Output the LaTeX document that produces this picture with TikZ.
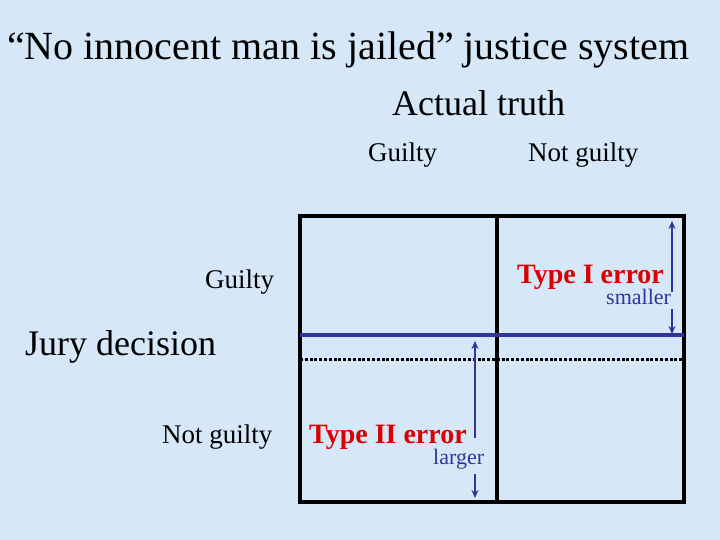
\documentclass[tikz,border=0pt]{standalone}
\usepackage{fontspec}
\setmainfont{Liberation Serif}
\usetikzlibrary{arrows.meta}
\definecolor{bgblue}{RGB}{214,231,248}
\definecolor{navy}{RGB}{51,51,153}
\definecolor{errred}{RGB}{220,0,0}
\begin{document}
\begin{tikzpicture}[x=1pt,y=-1pt,
  lbl/.style={anchor=base west,inner sep=0pt,font=\fontsize{27}{30}\selectfont},
  big/.style={anchor=base west,inner sep=0pt,font=\fontsize{36}{40}\selectfont},
  err/.style={anchor=base west,inner sep=0pt,text=errred,font=\fontsize{28}{30}\selectfont\bfseries},
  small/.style={anchor=base west,inner sep=0pt,text=navy,font=\fontsize{22}{26}\selectfont},
  grid/.style={line width=3.5pt,black},
  arr/.style={navy,line width=1.8pt,-{Stealth[length=8pt,width=7pt]}}]
\fill[bgblue] (0,0) rectangle (720,540);
\useasboundingbox (0,0) rectangle (720,540);
% texts
\node[anchor=base west,inner sep=0pt,font=\fontsize{40}{44}\selectfont] (title) at (7,60) {“No innocent man is jailed” justice system};
\node[big] (actual) at (392,116) {Actual truth};
\node[lbl] (cg) at (368,162) {Guilty};
\node[lbl] (cng) at (528,162) {Not guilty};
\node[lbl] (rg) at (205,288) {Guilty};
\node[big] (jury) at (25,355) {Jury decision};
\node[lbl] (rng) at (162,443) {Not guilty};
% grid
\coordinate (tl) at (300,216);
\coordinate (br) at (684,502);
\coordinate (vt) at (497,216);
\coordinate (vb) at (497,502);
\coordinate (bl) at (300,335);
\coordinate (brr) at (684,335);
\coordinate (dl) at (300,359);
\coordinate (dr) at (684,359);
\draw[black,line width=3pt,dash pattern=on 3pt off 1.8pt] (dl) -- (dr);
\draw[grid] (tl) rectangle (br);
\draw[grid] (vt) -- (vb);
\draw[navy,line width=4pt] (bl) -- (brr);
% errors
\node[err] (t1) at (517,283) {Type I error};
\node[small] (sm) at (606,304) {smaller};
\node[err] (t2) at (309,443) {Type II error};
\node[small] (lg) at (433,464) {larger};
\coordinate (a1top) at (672,221);
\coordinate (a1m1) at (672,292);
\coordinate (a1m2) at (672,309);
\coordinate (a1bot) at (672,334);
\draw[arr] (a1m1) -- (a1top);
\draw[arr] (a1m2) -- (a1bot);
\coordinate (a2top) at (475,341);
\coordinate (a2m1) at (475,438);
\coordinate (a2m2) at (475,474);
\coordinate (a2bot) at (475,498);
\draw[arr] (a2m1) -- (a2top);
\draw[arr] (a2m2) -- (a2bot);
\end{tikzpicture}
\end{document}
